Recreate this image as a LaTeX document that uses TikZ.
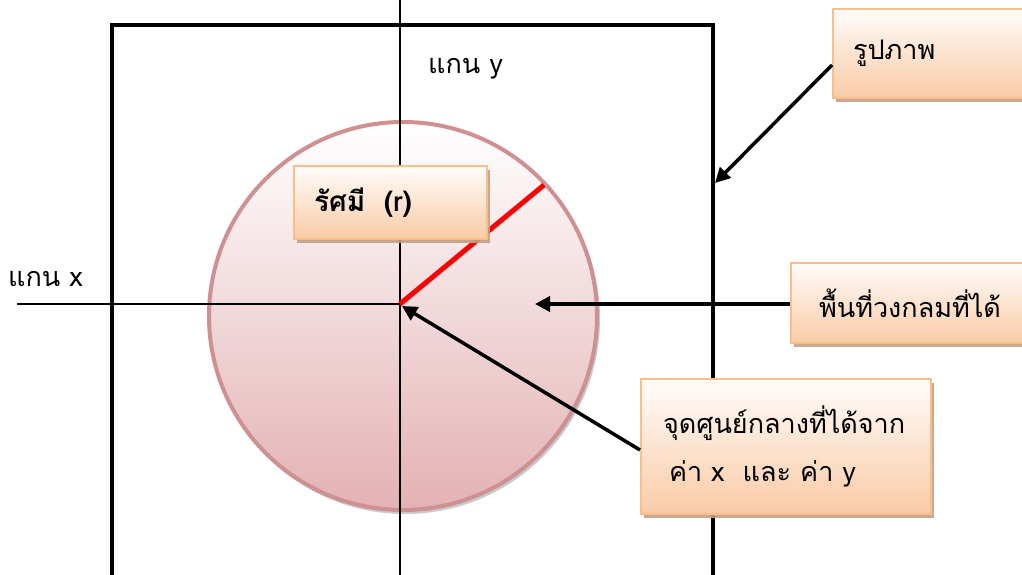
\documentclass[tikz,border=0pt]{standalone}
\usepackage{fontspec}
\newfontfamily\thai[Script=Thai]{Loma}
\usetikzlibrary{arrows.meta,shadows}
\definecolor{boxB}{HTML}{F8BE8C}
\definecolor{boxT}{HTML}{FFFCFA}
\definecolor{boxBot}{HTML}{F9CBA6}
\definecolor{shadowC}{HTML}{C4A084}
\definecolor{circB}{HTML}{CF9092}
\definecolor{circBot}{HTML}{E3B1B3}
\begin{document}
\begin{tikzpicture}[x=1pt,y=-1pt,
  box/.style={draw=boxB, line width=2pt, top color=boxT, bottom color=boxBot,
    drop shadow={shadow xshift=3pt, shadow yshift=-4pt, fill=shadowC, opacity=0.9},
    anchor=north west, align=left, font=\thai\fontsize{27}{48}\selectfont},
  arr/.style={line width=3.5pt, -{Triangle[length=15pt,width=15pt]}},
  axis/.style={line width=1.5pt},
  lbl/.style={font=\thai\fontsize{27}{34}\selectfont, inner sep=0pt}]
\useasboundingbox (0,0) rectangle (1022,575);
\clip (0,0) rectangle (1022,575);
% picture frame
\draw[line width=3.5pt] (112,585) -- (112,25) -- (713,25) -- (713,585);
% circle with shadow
\fill[gray!70, opacity=0.6] (405,319) circle (195);
\node[circle, minimum size=388pt, inner sep=0pt, top color=white, bottom color=circBot,
  draw=circB, line width=4pt] (circ) at (403,316) {};
% axes
\coordinate (o) at (400,304);
\coordinate (ytop) at (400,-5);
\coordinate (ybot) at (400,580);
\coordinate (xl) at (17,304);
\draw[axis] (ytop) -- (ybot);
\draw[axis] (xl) -- (o);
% radius
\coordinate (rend) at (544,185);
\draw[red, line width=5pt] (o) -- (rend);
% labels
\node[lbl, anchor=base west] (ly) at (428,74) {แกน y};
\node[lbl, anchor=base west] (lx) at (8,286) {แกน x};
% boxes
\node[box, minimum width=193pt, minimum height=73pt, text width=153pt, inner xsep=20pt,
  font=\thai\bfseries\fontsize{28}{34}\selectfont] (br) at (293,165) {รัศมี~~(r)};
\node[box, minimum width=205pt, minimum height=89pt, text width=165pt, inner xsep=20pt] (bp) at (832,8) {\raisebox{2pt}{รูปภาพ}};
\node[box, minimum width=245pt, minimum height=80pt, text width=189pt, inner xsep=28pt] (ba) at (790,262) {พื้นที่วงกลมที่ได้};
\node[box, minimum width=290pt, minimum height=135pt, text width=246pt, inner xsep=22pt] (bc) at (640,378) {\raisebox{3pt}{จุดศูนย์กลางที่ได้จาก}\\\hspace*{6pt}\raisebox{3pt}{ค่า x~~และ ค่า y}};
% arrows
\coordinate (pt1) at (715,183);
\coordinate (pt2) at (535,304);
\coordinate (pt3) at (402,306);
\draw[arr] (bp.west |- 0,65) -- (pt1);
\draw[arr] (ba.west |- 0,304) -- (pt2);
\draw[arr] (bc.west |- 0,450) -- (pt3);
\end{tikzpicture}
\end{document}
